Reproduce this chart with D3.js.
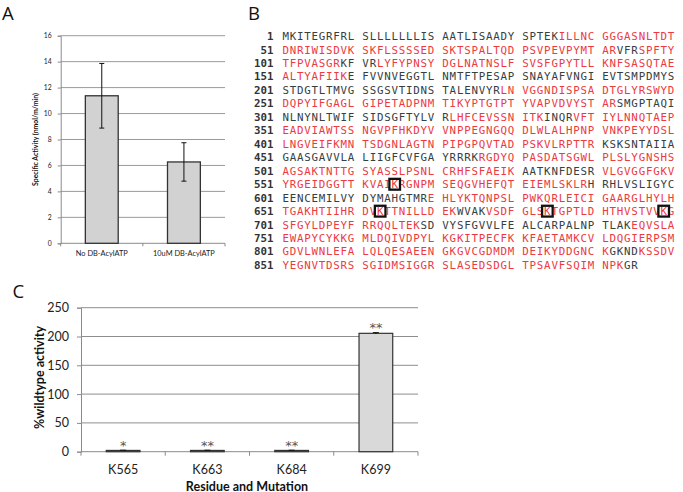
<!DOCTYPE html>
<html>
<head>
<meta charset="utf-8">
<script src="https://cdn.jsdelivr.net/npm/d3@7"></script>
<style>
  body { margin: 0; background: #fff; }
  svg { display: block; }
</style>
</head>
<body>
<div id="chart"></div>
<script>
// ---- Panel A data: specific activity with / without DB-AcylATP
const activityCategories = ["No DB-AcylATP", "10uM DB-AcylATP"];
const activityValues = [11.37, 6.27];
const activityErrors = [2.49, 1.48];
const activityTicks = [0, 2, 4, 6, 8, 10, 12, 14, 16];

// ---- Panel B data: protein sequence, 50 residues per row
const seqRows = [
  "MKITEGRFRLSLLLLLLLISAATLISAADYSPTEKILLNCGGGASNLTDT",
  "DNRIWISDVKSKFLSSSSEDSKTSPALTQDPSVPEVPYMTARVFRSPFTY",
  "TFPVASGRKFVRLYFYPNSYDGLNATNSLFSVSFGPYTLLKNFSASQTAE",
  "ALTYAFIIKEFVVNVEGGTLNMTFTPESAPSNAYAFVNGIEVTSMPDMYS",
  "STDGTLTMVGSSGSVTIDNSTALENVYRLNVGGNDISPSADTGLYRSWYD",
  "DQPYIFGAGLGIPETADPNMTIKYPTGTPTYVAPVDVYSTARSMGPTAQI",
  "NLNYNLTWIFSIDSGFTYLVRLHFCEVSSNITKINQRVFTIYLNNQTAEP",
  "EADVIAWTSSNGVPFHKDYVVNPPEGNGQQDLWLALHPNPVNKPEYYDSL",
  "LNGVEIFKMNTSDGNLAGTNPIPGPQVTADPSKVLRPTTRKSKSNTAIIA",
  "GAASGAVVLALIIGFCVFGAYRRRKRGDYQPASDATSGWLPLSLYGNSHS",
  "AGSAKTNTTGSYASSLPSNLCRHFSFAEIKAATKNFDESRVLGVGGFGKV",
  "YRGEIDGGTTKVAIKRGNPMSEQGVHEFQTEIEMLSKLRHRHLVSLIGYC",
  "EENCEMILVYDYMAHGTMREHLYKTQNPSLPWKQRLEICIGAARGLHYLH",
  "TGAKHTIIHRDVKTTNILLDEKWVAKVSDFGLSKTGPTLDHTHVSTVVKG",
  "SFGYLDPEYFRRQQLTEKSDVYSFGVVLFEALCARPALNPTLAKEQVSLA",
  "EWAPYCYKKGMLDQIVDPYLKGKITPECFKKFAETAMKCVLDQGIERPSM",
  "GDVLWNLEFALQLQESAEENGKGVCGDMDMDEIKYDDGNCKGKNDKSSDV",
  "YEGNVTDSRSSGIDMSIGGRSLASEDSDGLTPSAVFSQIMNPKGR"
];
// residues shown in dark gray (all others are red)
const grayRanges = [[1, 35], [93, 95], [109, 112], [160, 228], [293, 321], [334, 337],
  [441, 475], [531, 540], [590, 619], [673, 676], [719, 744], [842, 845], [894, 895]];
// boxed lysines
const boxedSites = [565, 663, 684, 699];

// ---- Panel C data: % wildtype activity of mutants
const mutantLabels = ["K565", "K663", "K684", "K699"];
const mutantValues = [2.2, 2.2, 2.2, 205.5];
const mutantErrors = [0.4, 0.4, 0.4, 1.2];
const mutantStars = ["*", "**", "**", "**"];
const mutantTicks = [0, 50, 100, 150, 200, 250];

const redColor = "#ec3a3f";
const grayColor = "#36403f";
const gridColor = "#9a9a9a";
const axisColor = "#8a8a8a";
const chartFont = "Lato, 'Open Sans', sans-serif";

const svg = d3.select("#chart").append("svg")
  .attr("width", 683)
  .attr("height", 492);

// Panel letters
const panelLetters = [["A", 2, 20], ["B", 248, 20], ["C", 12.5, 298]];
for (let p of panelLetters) {
  svg.append("text")
    .attr("x", p[1]).attr("y", p[2])
    .style("font-family", "'Open Sans', sans-serif")
    .style("font-size", "18.5px")
    .style("fill", "#111")
    .text(p[0]);
}

// ================= Panel A =================
function buildPanelA() {
  let left = 60.7, right = 225, top = 35.7, bottom = 243.3;
  let g = svg.append("g");

  let x = d3.scaleBand()
    .domain(activityCategories)
    .range([left, right])
    .paddingInner(0.6)
    .paddingOuter(0.3);
  let y = d3.scaleLinear().domain([0, 16]).range([bottom, top]);

  // gridlines
  g.selectAll(".gridA").data(activityTicks.filter(d => d > 0)).enter()
    .append("line")
    .attr("x1", left).attr("x2", right)
    .attr("y1", d => y(d)).attr("y2", d => y(d))
    .style("stroke", gridColor).style("stroke-width", 1);

  // y axis
  let yAxis = d3.axisLeft(y).tickValues(activityTicks).tickSize(3).tickPadding(6);
  let ya = g.append("g").attr("transform", "translate(" + left + ",0)").call(yAxis);
  ya.select(".domain").style("stroke", axisColor);
  ya.selectAll(".tick line").style("stroke", axisColor);
  ya.selectAll("text").style("font-family", chartFont).style("font-size", "6.8px").style("fill", "#222");

  // x axis with tick marks on the category boundaries
  let xa = g.append("g");
  xa.append("line").attr("x1", left).attr("x2", right).attr("y1", bottom).attr("y2", bottom)
    .style("stroke", axisColor);
  let bounds = [left].concat(activityCategories.map(c => x(c) + x.bandwidth() / 2 + x.step() / 2));
  xa.selectAll(".xt").data(bounds).enter().append("line")
    .attr("x1", d => d).attr("x2", d => d).attr("y1", bottom).attr("y2", bottom + 3)
    .style("stroke", axisColor);
  xa.selectAll(".xl").data(activityCategories).enter().append("text")
    .attr("x", d => x(d) + x.bandwidth() / 2)
    .attr("y", bottom + 12.5)
    .attr("text-anchor", "middle")
    .style("font-family", chartFont).style("font-size", "7.4px").style("fill", "#222")
    .text(d => d);

  // bars
  g.selectAll(".barA").data(activityValues).enter().append("rect")
    .attr("x", (d, i) => x(activityCategories[i]))
    .attr("y", d => y(d))
    .attr("width", x.bandwidth())
    .attr("height", d => bottom - y(d))
    .style("fill", "#d2d2d2")
    .style("stroke", "#333").style("stroke-width", 1.3);

  // error bars
  activityValues.forEach((v, i) => {
    let cx = x(activityCategories[i]) + x.bandwidth() / 2;
    let e = activityErrors[i];
    g.append("line").attr("x1", cx).attr("x2", cx).attr("y1", y(v + e)).attr("y2", y(v - e))
      .style("stroke", "#111").style("stroke-width", 1);
    [v + e, v - e].forEach(t => {
      g.append("line").attr("x1", cx - 2.5).attr("x2", cx + 2.5).attr("y1", y(t)).attr("y2", y(t))
        .style("stroke", "#111").style("stroke-width", 1);
    });
  });

  // y title
  g.append("text")
    .attr("transform", "translate(37.8," + ((top + bottom) / 2 + 0) + ") rotate(-90)")
    .attr("text-anchor", "middle")
    .style("font-family", chartFont).style("font-size", "6.9px").style("font-weight", "bold")
    .style("fill", "#111")
    .text("Specific Activity (nmol/m/min)");
}

// ================= Panel B =================
function buildPanelB() {
  let g = svg.append("g");
  let charStep = 7.27;
  // column index includes one gap after every 10 residues
  let colX = d3.scaleLinear().domain([0, 53]).range([282.4, 282.4 + 53 * charStep]);
  let rowY = d3.scaleLinear().domain([0, 17]).range([36.2, 265]);

  let isGray = pos => grayRanges.some(r => pos >= r[0] && pos <= r[1]);

  seqRows.forEach((row, r) => {
    let start = r * 50 + 1;
    let baseline = rowY(r) + 3.9;

    // residue number
    g.append("text")
      .attr("x", 273.5).attr("y", baseline)
      .attr("text-anchor", "end")
      .style("font-family", "'DejaVu Sans Mono', monospace")
      .style("font-size", "10.8px").style("font-weight", "bold")
      .style("fill", "#333")
      .text(start);

    // split the row into runs of same colour, with a space between blocks of 10
    let runs = [];
    for (let i = 0; i < row.length; i++) {
      let pos = start + i;
      let col = isGray(pos) ? grayColor : redColor;
      let chars = [{ch: row[i], c: i + Math.floor(i / 10)}];
      if (i % 10 === 9 && i < row.length - 1) chars.push({ch: " ", c: i + Math.floor(i / 10) + 1});
      let last = runs[runs.length - 1];
      if (last && last.color === col) {
        last.chars = last.chars.concat(chars);
      } else {
        runs.push({color: col, chars: chars});
      }
    }

    let t = g.append("text")
      .attr("y", baseline)
      .attr("xml:space", "preserve")
      .style("font-family", "'DejaVu Sans Mono', monospace")
      .style("font-size", "10.8px");
    for (let run of runs) {
      t.append("tspan")
        .attr("x", run.chars.map(d => colX(d.c).toFixed(2)).join(" "))
        .style("fill", run.color)
        .text(run.chars.map(d => d.ch).join(""));
    }
  });

  // boxes round the mutated lysines
  g.selectAll(".box").data(boxedSites).enter().append("rect")
    .attr("x", d => {
      let i = (d - 1) % 50;
      return colX(i + Math.floor(i / 10)) + 3.25 - 5.3;
    })
    .attr("y", d => rowY(Math.floor((d - 1) / 50)) - 5.4)
    .attr("width", 10.6)
    .attr("height", 10.8)
    .style("fill", "none")
    .style("stroke", "#111")
    .style("stroke-width", 2.3);
}

// ================= Panel C =================
function buildPanelC() {
  let left = 81, right = 418, top = 307.7, bottom = 451.7;
  let g = svg.append("g");

  let x = d3.scaleBand()
    .domain(mutantLabels)
    .range([left, right])
    .paddingInner(0.6)
    .paddingOuter(0.3);
  let y = d3.scaleLinear().domain([0, 250]).range([bottom, top]);

  g.selectAll(".gridC").data(mutantTicks.filter(d => d > 0)).enter()
    .append("line")
    .attr("x1", left).attr("x2", right)
    .attr("y1", d => y(d)).attr("y2", d => y(d))
    .style("stroke", "#8e8e8e").style("stroke-width", 1);

  let yAxis = d3.axisLeft(y).tickValues(mutantTicks).tickSize(4).tickPadding(8);
  let ya = g.append("g").attr("transform", "translate(" + left + ",0)").call(yAxis);
  ya.select(".domain").style("stroke", axisColor);
  ya.selectAll(".tick line").style("stroke", axisColor);
  ya.selectAll("text").style("font-family", chartFont).style("font-size", "12.5px").style("fill", "#222");

  let xa = g.append("g");
  xa.append("line").attr("x1", left).attr("x2", right).attr("y1", bottom).attr("y2", bottom)
    .style("stroke", axisColor);
  let bounds = [left].concat(mutantLabels.map(c => x(c) + x.bandwidth() / 2 + x.step() / 2));
  xa.selectAll(".xt").data(bounds).enter().append("line")
    .attr("x1", d => d).attr("x2", d => d).attr("y1", bottom).attr("y2", bottom + 4)
    .style("stroke", axisColor);
  xa.selectAll(".xl").data(mutantLabels).enter().append("text")
    .attr("x", d => x(d) + x.bandwidth() / 2)
    .attr("y", bottom + 22.5)
    .attr("text-anchor", "middle")
    .style("font-family", chartFont).style("font-size", "12.5px").style("fill", "#222")
    .text(d => d);

  g.selectAll(".barC").data(mutantValues).enter().append("rect")
    .attr("x", (d, i) => x(mutantLabels[i]))
    .attr("y", d => y(d))
    .attr("width", x.bandwidth())
    .attr("height", d => bottom - y(d))
    .style("fill", "#d9d9d9")
    .style("stroke", "#333").style("stroke-width", 1.2);

  mutantValues.forEach((v, i) => {
    let cx = x(mutantLabels[i]) + x.bandwidth() / 2;
    let e = mutantErrors[i];
    g.append("line").attr("x1", cx).attr("x2", cx).attr("y1", y(v + e)).attr("y2", y(v - e))
      .style("stroke", "#111").style("stroke-width", 1);
    g.append("line").attr("x1", cx - 3).attr("x2", cx + 3).attr("y1", y(v + e)).attr("y2", y(v + e))
      .style("stroke", "#111").style("stroke-width", 1);
    // significance stars
    g.append("text")
      .attr("x", cx).attr("y", y(v + e) - 0.5)
      .attr("text-anchor", "middle")
      .style("font-family", "'DejaVu Sans', sans-serif").style("font-size", "13px").style("fill", "#555")
      .text(mutantStars[i]);
  });

  g.append("text")
    .attr("transform", "translate(44," + 377.5 + ") rotate(-90)")
    .attr("text-anchor", "middle")
    .style("font-family", chartFont).style("font-size", "12.5px").style("font-weight", "bold")
    .style("fill", "#111")
    .text("%wildtype activity");

  g.append("text")
    .attr("x", 247).attr("y", 490.5)
    .attr("text-anchor", "middle")
    .style("font-family", chartFont).style("font-size", "12.5px").style("font-weight", "bold")
    .style("fill", "#111")
    .text("Residue and Mutation");
}

buildPanelA();
buildPanelB();
buildPanelC();
</script>
</body>
</html>
